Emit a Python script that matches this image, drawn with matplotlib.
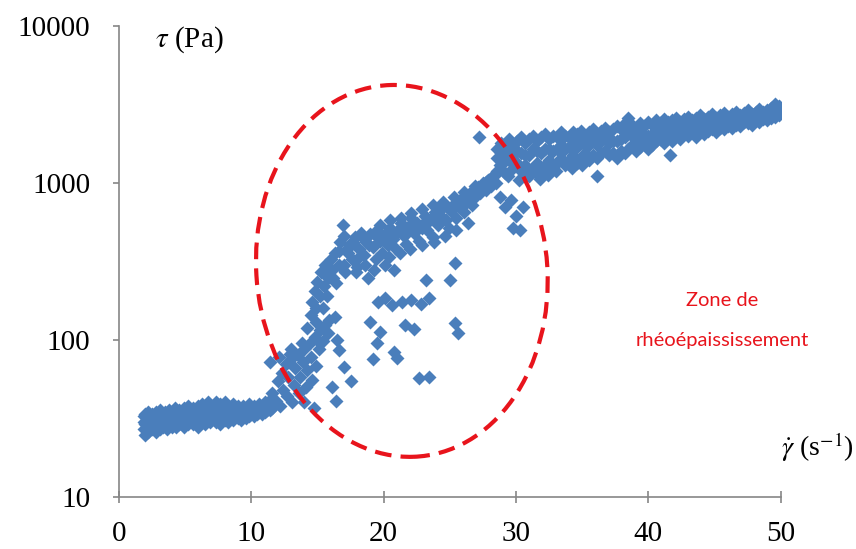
import matplotlib.pyplot as plt
from matplotlib.patches import Ellipse

# low-shear plateau (three rows of points per x)
low_x = [1.9, 2.0, 2.1, 2.2, 2.3, 2.5, 2.6, 2.8, 3.0, 3.1,
         3.3, 3.5, 3.6, 3.8, 4.0, 4.2, 4.3, 4.5, 4.7, 4.9,
         5.0, 5.2, 5.4, 5.6, 5.8, 6.0, 6.2, 6.3, 6.5, 6.7,
         6.9, 7.1, 7.3, 7.4, 7.6, 7.8, 8.0, 8.2, 8.4, 8.6,
         8.8, 9.0, 9.2, 9.4, 9.6, 9.8, 10.0, 10.2, 10.4, 10.6,
         10.8, 11.0, 11.2, 11.4, 11.6]
low_tau_a = [33, 34, 31, 35, 33, 34, 32, 35, 33, 36,
             34, 35, 33, 36, 34, 37, 35, 36, 34, 37,
             35, 38, 36, 37, 35, 38, 36, 39, 37, 40,
             36, 38, 40, 37, 39, 36, 40, 38, 36, 39,
             37, 38, 36, 38, 37, 39, 37, 38, 37, 39,
             38, 40, 39, 41, 43]
low_tau_b = [27, 25, 28, 26, 29, 27, 28, 26, 29, 27,
             28, 30, 27, 29, 28, 30, 28, 29, 31, 28,
             30, 29, 31, 29, 30, 28, 31, 30, 29, 31,
             30, 32, 30, 31, 29, 32, 31, 30, 32, 31,
             33, 32, 31, 33, 32, 33, 34, 33, 34, 35,
             34, 35, 36, 36, 37]
low_tau_c = [30, 29, 30, 31, 31, 30, 30, 31, 31, 32,
             31, 32, 30, 32, 31, 33, 32, 32, 33, 32,
             33, 33, 34, 33, 32, 33, 34, 34, 33, 35,
             33, 35, 35, 34, 34, 34, 35, 34, 34, 35,
             35, 35, 34, 36, 35, 36, 35, 36, 36, 37,
             36, 38, 38, 39, 40]

# shear-thickening zone
mid_x = [11.6, 11.9, 12.0, 12.2, 12.3, 12.4, 12.6, 12.7, 12.8, 13.0,
         13.1, 13.2, 13.3, 13.5, 13.6, 13.7, 13.9, 14.0, 14.1, 14.2,
         14.4, 14.5, 14.6, 14.8, 14.9, 15.1, 15.2, 15.4, 15.6, 15.8,
         11.4, 12.1, 12.9, 14.0, 14.7, 14.2, 14.9, 15.0, 13.8, 13.0,
         14.5, 14.6, 14.8, 14.9, 15.0, 15.2, 15.3, 15.5, 15.6, 15.8,
         16.0, 16.1, 16.3, 16.4, 16.6, 16.7, 16.9, 17.0, 17.1, 17.2,
         16.3, 15.9, 15.4, 15.7, 16.2, 16.6,
         16.1, 16.4, 16.6, 17.0, 17.5, 16.5, 19.0, 19.5, 19.2, 19.7,
         20.8, 21.0, 21.6, 22.3, 22.7, 23.4, 25.4, 25.6, 19.6, 20.1,
         20.6, 21.4, 22.1, 22.8, 23.4, 20.1, 20.8, 23.2, 25.0, 25.4,
         17.4, 17.6, 17.8, 18.0, 18.1, 18.3, 18.5, 18.7, 18.8, 19.0,
         19.2, 19.4, 19.5, 19.7, 19.9, 20.1, 20.3, 20.5, 20.7, 20.9,
         21.1, 21.3, 21.5, 21.7, 21.9, 22.1, 22.3, 22.5, 22.7, 22.9,
         23.1, 23.3, 23.5, 23.7, 23.9, 24.1, 24.3, 24.5, 24.7, 24.9,
         25.1, 25.3, 25.5, 25.7, 25.9, 26.1, 26.3, 26.5, 26.7, 26.9,
         27.1, 27.3, 27.5, 27.7, 27.9, 28.1, 28.3, 28.5,
         17.3, 17.7, 18.1, 18.5, 18.9, 19.3, 19.7, 20.1, 20.5, 20.9,
         21.3, 21.7, 22.1, 22.5, 22.9, 23.3, 23.7, 24.1, 24.5, 24.9,
         25.3, 25.7, 26.1, 26.5, 26.9, 27.3, 27.7, 28.1,
         17.0, 17.9, 18.6, 19.3, 20.4, 21.2, 22.0, 22.9, 23.8, 24.6,
         25.5, 26.4,
         28.8, 29.2, 29.6, 30.0, 30.3, 29.8, 30.5, 31.8, 27.2, 28.6,
         28.8, 29.0]
mid_tau = [46, 41, 55, 38, 62, 48, 70, 44, 58, 76,
           40, 52, 66, 80, 46, 58, 72, 88, 50, 64,
           95, 78, 56, 105, 68, 88, 115, 98, 125, 110,
           72, 78, 82, 40, 37, 120, 130, 100, 95, 88,
           145, 175, 205, 160, 235, 190, 270, 220, 300, 250,
           330, 280, 360, 230, 300, 420, 540, 460, 270, 380,
           140, 135, 160, 190, 250, 370,
           50, 41, 86, 67, 55, 100, 130, 95, 76, 112,
           84, 77, 124, 118, 57, 58, 128, 110, 174, 185,
           167, 175, 180, 170, 185, 300, 280, 241, 240, 310,
           400, 330, 450, 290, 380, 480, 350, 420, 250, 470,
           390, 330, 500, 430, 360, 470, 400, 520, 440, 380,
           500, 560, 460, 410, 530, 600, 480, 560, 430, 520,
           620, 500, 580, 450, 650, 540, 620, 700, 580, 520,
           660, 740, 600, 700, 800, 650, 760, 860, 720, 820,
           940, 860, 1000, 900, 1050, 960, 1100, 1000,
           360, 420, 340, 440, 400, 470, 540, 420, 580, 470,
           600, 520, 640, 540, 680, 580, 720, 620, 760, 680,
           820, 740, 880, 800, 960, 900, 1020, 1080,
           300, 270, 300, 280, 340, 360, 380, 400, 420, 460,
           500, 560,
           820, 700, 780, 620, 500, 520, 700, 1060, 1950, 1150,
           1300, 1500]

# high-shear plateau (three rows of points per x)
high_x = [28.6, 28.9, 29.2, 29.5, 29.8, 30.1, 30.4, 30.7, 31.0, 31.3,
          31.6, 31.9, 32.2, 32.5, 32.8, 33.1, 33.4, 33.7, 34.0, 34.3,
          34.6, 34.9, 35.2, 35.5, 35.8, 36.1, 36.4, 36.7, 37.0, 37.3,
          37.6, 37.9, 38.2, 38.5, 38.8, 39.1, 39.4, 39.7, 40.0, 40.3,
          40.6, 40.9, 41.2, 41.5, 41.8, 42.1, 42.4, 42.7, 43.0, 43.3,
          43.6, 43.9, 44.2, 44.5, 44.8, 45.1, 45.4, 45.7, 46.0, 46.3,
          46.6, 46.9, 47.2, 47.5, 47.8, 48.1, 48.4, 48.7, 49.0, 49.3,
          49.6, 49.9]
high_tau_a = [1650, 1800, 1700, 1900, 1750, 1850, 1950, 1800, 1900, 2000,
              1850, 1950, 2050, 1900, 2000, 1950, 2100, 2000, 1950, 2100,
              2050, 2150, 2000, 2100, 2200, 2050, 2150, 2250, 2100, 2200,
              2300, 2200, 2400, 2600, 2350, 2250, 2400, 2300, 2450, 2350,
              2500, 2400, 2550, 2450, 2500, 2600, 2450, 2550, 2650, 2500,
              2600, 2700, 2550, 2650, 2750, 2600, 2700, 2800, 2650, 2750,
              2850, 2700, 2800, 2900, 2750, 2850, 2950, 2850, 2900, 3000,
              3200, 3100]
high_tau_b = [1200, 1300, 1150, 1400, 1250, 1350, 1200, 1300, 1150, 1250,
              1350, 1200, 1300, 1400, 1250, 1350, 1450, 1300, 1400, 1500,
              1350, 1450, 1550, 1400, 1500, 1450, 1550, 1600, 1500, 1550,
              1450, 1600, 1550, 1650, 1750, 1600, 1700, 1800, 1650, 1750,
              1850, 1900, 1800, 1950, 1850, 2000, 1900, 2050, 2000, 2100,
              1950, 2100, 2050, 2150, 2200, 2100, 2250, 2200, 2300, 2250,
              2350, 2300, 2450, 2400, 2350, 2500, 2450, 2550, 2500, 2600,
              2650, 2700]
high_tau_c = [1450, 1550, 1400, 1600, 1500, 1600, 1550, 1500, 1500, 1650,
              1600, 1550, 1650, 1650, 1600, 1650, 1750, 1650, 1700, 1800,
              1700, 1800, 1750, 1750, 1850, 1750, 1850, 1900, 1800, 1850,
              1850, 1900, 1950, 2100, 2000, 1900, 2050, 2050, 2000, 2050,
              2150, 2150, 2150, 2200, 2150, 2300, 2150, 2300, 2300, 2300,
              2250, 2400, 2300, 2400, 2450, 2350, 2450, 2500, 2450, 2500,
              2600, 2500, 2600, 2650, 2550, 2650, 2700, 2700, 2700, 2800,
              2900, 2900]
outlier_x = [36.1, 41.6, 29.4, 30.2, 31.0, 31.5, 32.4, 33.0, 34.2, 35.0]
outlier_tau = [1110, 1500, 1100, 1050, 1100, 1150, 1120, 1200, 1250, 1300]

x_ticks = [0, 10, 20, 30, 40, 50]
y_ticks = [10, 100, 1000, 10000]
y_labels = ['10', '100', '1000', '10000']

blue = '#4A7EBB'
red = '#E8141C'
grey = '#868686'

plt.rcParams['font.family'] = 'Liberation Serif'
plt.rcParams['mathtext.fontset'] = 'stix'

fig = plt.figure(figsize=(8.56, 5.49), dpi=100)
ax = fig.add_axes([0.139, 0.0947, 0.773, 0.858])

mk = dict(ls='none', marker='D', ms=7.2, color=blue, mec='none')
for ys in (low_tau_a, low_tau_b, low_tau_c):
    ax.plot(low_x, ys, **mk)
ax.plot(mid_x, mid_tau, **mk)
for ys in (high_tau_a, high_tau_b, high_tau_c):
    ax.plot(high_x, ys, **mk)
ax.plot(outlier_x, outlier_tau, **mk)

ax.set_yscale('log')
ax.set_xlim(0, 50)
ax.set_ylim(10, 10000)
ax.set_xticks(x_ticks)
ax.set_yticks(y_ticks)
ax.set_yticklabels(y_labels)
ax.minorticks_off()

for s in ('top', 'right'):
    ax.spines[s].set_visible(False)
for s in ('left', 'bottom'):
    ax.spines[s].set_color(grey)
    ax.spines[s].set_linewidth(1.2)
ax.tick_params(axis='x', direction='inout', length=9, width=1.2, color=grey,
               labelsize=21, pad=13)
ax.tick_params(axis='y', direction='out', length=4.5, width=1.2, color=grey,
               labelsize=21, pad=16)

# dashed ellipse around the thickening zone
ell = Ellipse((0.4275, 0.48), 0.44, 0.79, angle=2.5, transform=ax.transAxes,
              fill=False, ec=red, lw=3, ls=(0, (4, 2.2)), zorder=5)
ax.add_patch(ell)

ax.text(0.054, 0.97, r'$\tau$ (Pa)', transform=ax.transAxes, fontsize=21,
        ha='left', va='center')
ax.text(1.0, 0.105, r'$\dot{\gamma}$ (s$^{-1}$)', transform=ax.transAxes,
        fontsize=20, ha='left', va='center', clip_on=False)
ax.text(0.911, 0.418, 'Zone de', transform=ax.transAxes, fontsize=14.5,
        family='Lato', color=red, ha='center', va='center')
ax.text(0.912, 0.333, 'rhéoépaississement', transform=ax.transAxes,
        fontsize=14.5, family='Lato', color=red, ha='center', va='center')

fig.savefig('out.png', dpi=100)
